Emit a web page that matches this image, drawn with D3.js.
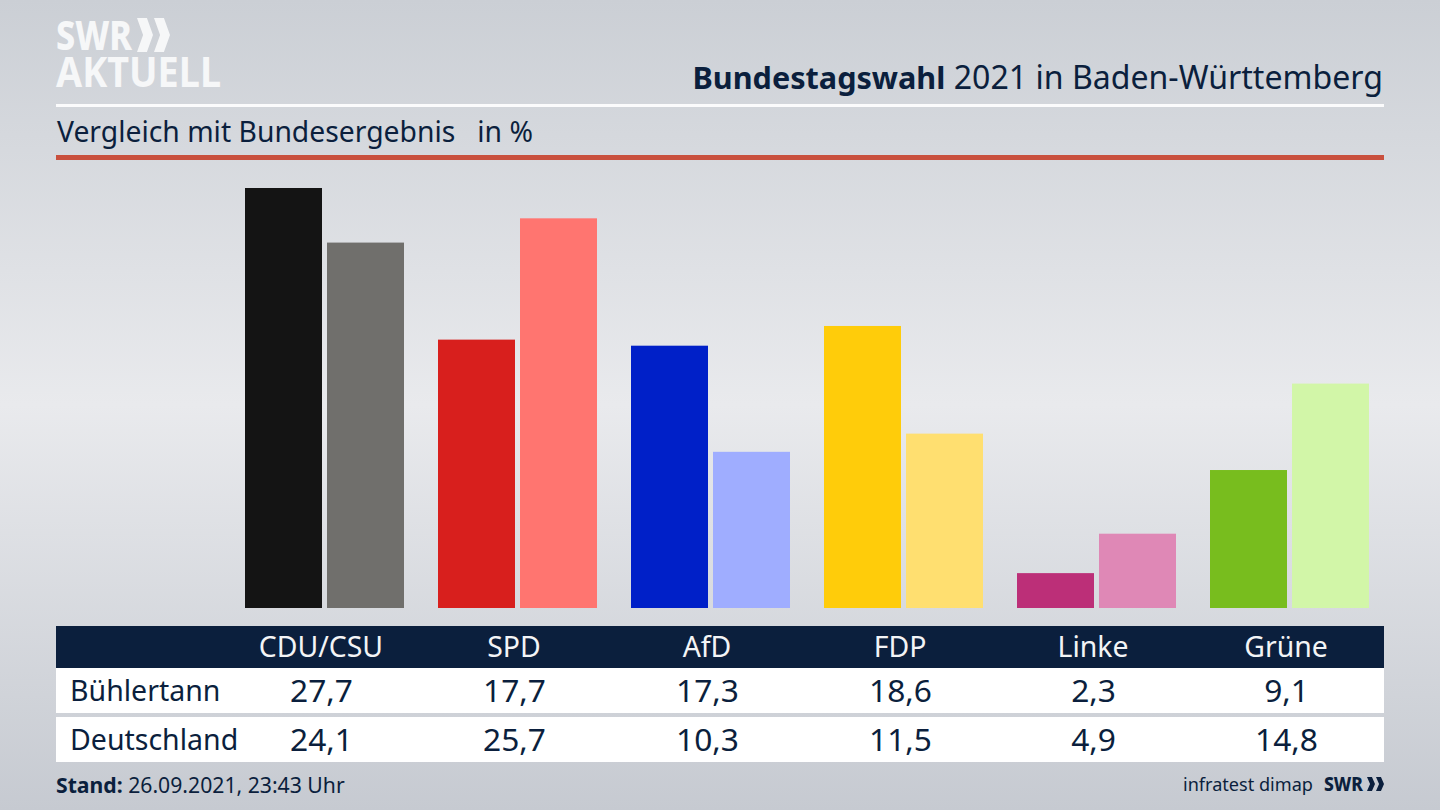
<!DOCTYPE html>
<html lang="de">
<head>
<meta charset="utf-8">
<title>Bundestagswahl 2021 in Baden-Württemberg</title>
<script src="https://cdn.jsdelivr.net/npm/d3@7/dist/d3.min.js"></script>
<style>
    html, body { margin: 0; padding: 0; background: #d5d8dd; }
    svg { display: block; }
    text { font-family: "Noto Sans", "Open Sans", sans-serif; }
</style>
</head>
<body>
<svg id="chart" width="1440" height="810"></svg>
<script>
/** Балки: Bühlertann / Deutschland */
const parties = ['CDU/CSU', 'SPD', 'AfD', 'FDP', 'Linke', 'Grüne'];
const regions = ['Bühlertann', 'Deutschland'];
const buehlertann = [27.7, 17.7, 17.3, 18.6, 2.3, 9.1];
const deutschland = [24.1, 25.7, 10.3, 11.5, 4.9, 14.8];
const colorsLocal = ['#141414', '#d81f1d', '#0020c8', '#ffcc0a', '#bc2f78', '#78bd1e'];
const colorsFederal = ['#706f6c', '#ff7570', '#9fadff', '#ffdf70', '#df88b6', '#d2f6a8'];

const navy = '#0b1f3d';
const svg = d3.select('#chart');

// фон
const defs = svg.append('defs');
const bg = defs.append('linearGradient').attr('id', 'bg').attr('x1', 0).attr('x2', 0).attr('y1', 0).attr('y2', 1);
bg.append('stop').attr('offset', '0%').attr('stop-color', '#cbcfd5');
bg.append('stop').attr('offset', '50%').attr('stop-color', '#e9eaed');
bg.append('stop').attr('offset', '100%').attr('stop-color', '#c6cad1');
svg.append('rect').attr('width', 1440).attr('height', 810).attr('fill', 'url(#bg)');

// шапка: логотип одним текстом
const logo = svg.append('text').attr('font-size', 41).attr('font-weight', 800).attr('fill', '#f6f7f8');
logo.append('tspan').attr('x', 56).attr('y', 50)
    .attr('textLength', 76).attr('lengthAdjust', 'spacingAndGlyphs').text('SWR');
logo.append('tspan').attr('x', 56).attr('y', 87).attr('font-weight', 700)
    .attr('textLength', 165).attr('lengthAdjust', 'spacingAndGlyphs').text('AKTUELL');

function chevrons(x, y, w, h, color) {
    const t = w * 0.62;
    [0, w + 1].forEach(dx => {
        svg.append('path')
            .attr('d', `M${x + dx},${y} l${t},0 l${w - t},${h / 2} l${t - w},${h / 2} l${-t},0 l${w - t},${-h / 2} Z`)
            .attr('fill', color);
    });
}
chevrons(137, 18, 16, 34, '#f6f7f8');

const title = svg.append('text').attr('x', 1383).attr('y', 89).attr('text-anchor', 'end')
    .attr('font-size', 32.1).attr('fill', navy);
title.append('tspan').attr('font-weight', 700).attr('font-size', 30.6).text('Bundestagswahl');
title.append('tspan').text(' 2021 in Baden-Württemberg');

svg.append('rect').attr('x', 56).attr('y', 104).attr('width', 1328).attr('height', 3).attr('fill', '#fbfbfc');
svg.append('text').attr('x', 57).attr('y', 142).attr('font-size', 28.3).attr('fill', navy)
    .attr('xml:space', 'preserve').text('Vergleich mit Bundesergebnis   in %');
svg.append('rect').attr('x', 56).attr('y', 155).attr('width', 1328).attr('height', 5).attr('fill', '#c9503e');

// шкалы
const x = d3.scaleBand().domain(parties).range([245, 1369]).paddingInner(34 / 193).paddingOuter(0);
const xSeries = d3.scaleBand().domain(regions).range([0, x.bandwidth()]).paddingInner(5 / 82).paddingOuter(0);
const y = d3.scaleLinear().domain([0, 27.7]).range([608, 188]);

// столбцы
[[regions[0], buehlertann, colorsLocal], [regions[1], deutschland, colorsFederal]].forEach(([region, values, colors]) => {
    svg.append('g').selectAll('rect')
        .data(values)
        .join('rect')
        .attr('x', (d, i) => x(parties[i]) + xSeries(region))
        .attr('y', d => y(d))
        .attr('width', xSeries.bandwidth())
        .attr('height', d => y(0) - y(d))
        .attr('fill', (d, i) => colors[i]);
});

// таблица
const labelX = p => x(p) + xSeries.bandwidth() - 1;
svg.append('rect').attr('x', 56).attr('y', 626).attr('width', 1328).attr('height', 42).attr('fill', navy);
svg.append('g').selectAll('text')
    .data(parties)
    .join('text')
    .attr('x', labelX)
    .attr('y', 657)
    .attr('text-anchor', 'middle')
    .attr('font-size', 28.4)
    .attr('fill', '#f3f4f6')
    .text(d => d);

const rowTop = [668, 717];
[buehlertann, deutschland].forEach((values, r) => {
    svg.append('rect').attr('x', 56).attr('y', rowTop[r]).attr('width', 1328).attr('height', 45).attr('fill', '#fff');
    svg.append('text').attr('x', 70).attr('y', rowTop[r] + 33).attr('font-size', 28.5).attr('fill', navy).text(regions[r]);
    svg.append('g').selectAll('text')
        .data(values)
        .join('text')
        .attr('x', (d, i) => labelX(parties[i]) + 0.5)
        .attr('y', rowTop[r] + 34)
        .attr('text-anchor', 'middle')
        .attr('font-size', 31.7)
        .attr('fill', navy)
        .text(d => d.toFixed(1).replace('.', ','));
});

// подвал
const stand = svg.append('text').attr('x', 56).attr('y', 793).attr('font-size', 21.2).attr('fill', navy);
stand.append('tspan').attr('font-weight', 700).text('Stand:');
stand.append('tspan').text(' 26.09.2021, 23:43 Uhr');
svg.append('text').attr('x', 1183).attr('y', 791).attr('font-size', 18.1).attr('fill', navy).text('infratest dimap');
svg.append('text').attr('x', 1324).attr('y', 791).attr('font-size', 19).attr('font-weight', 800).attr('fill', navy)
    .attr('textLength', 39).attr('lengthAdjust', 'spacingAndGlyphs').text('SWR');
chevrons(1367, 777, 8, 14, navy);
</script>
</body>
</html>
